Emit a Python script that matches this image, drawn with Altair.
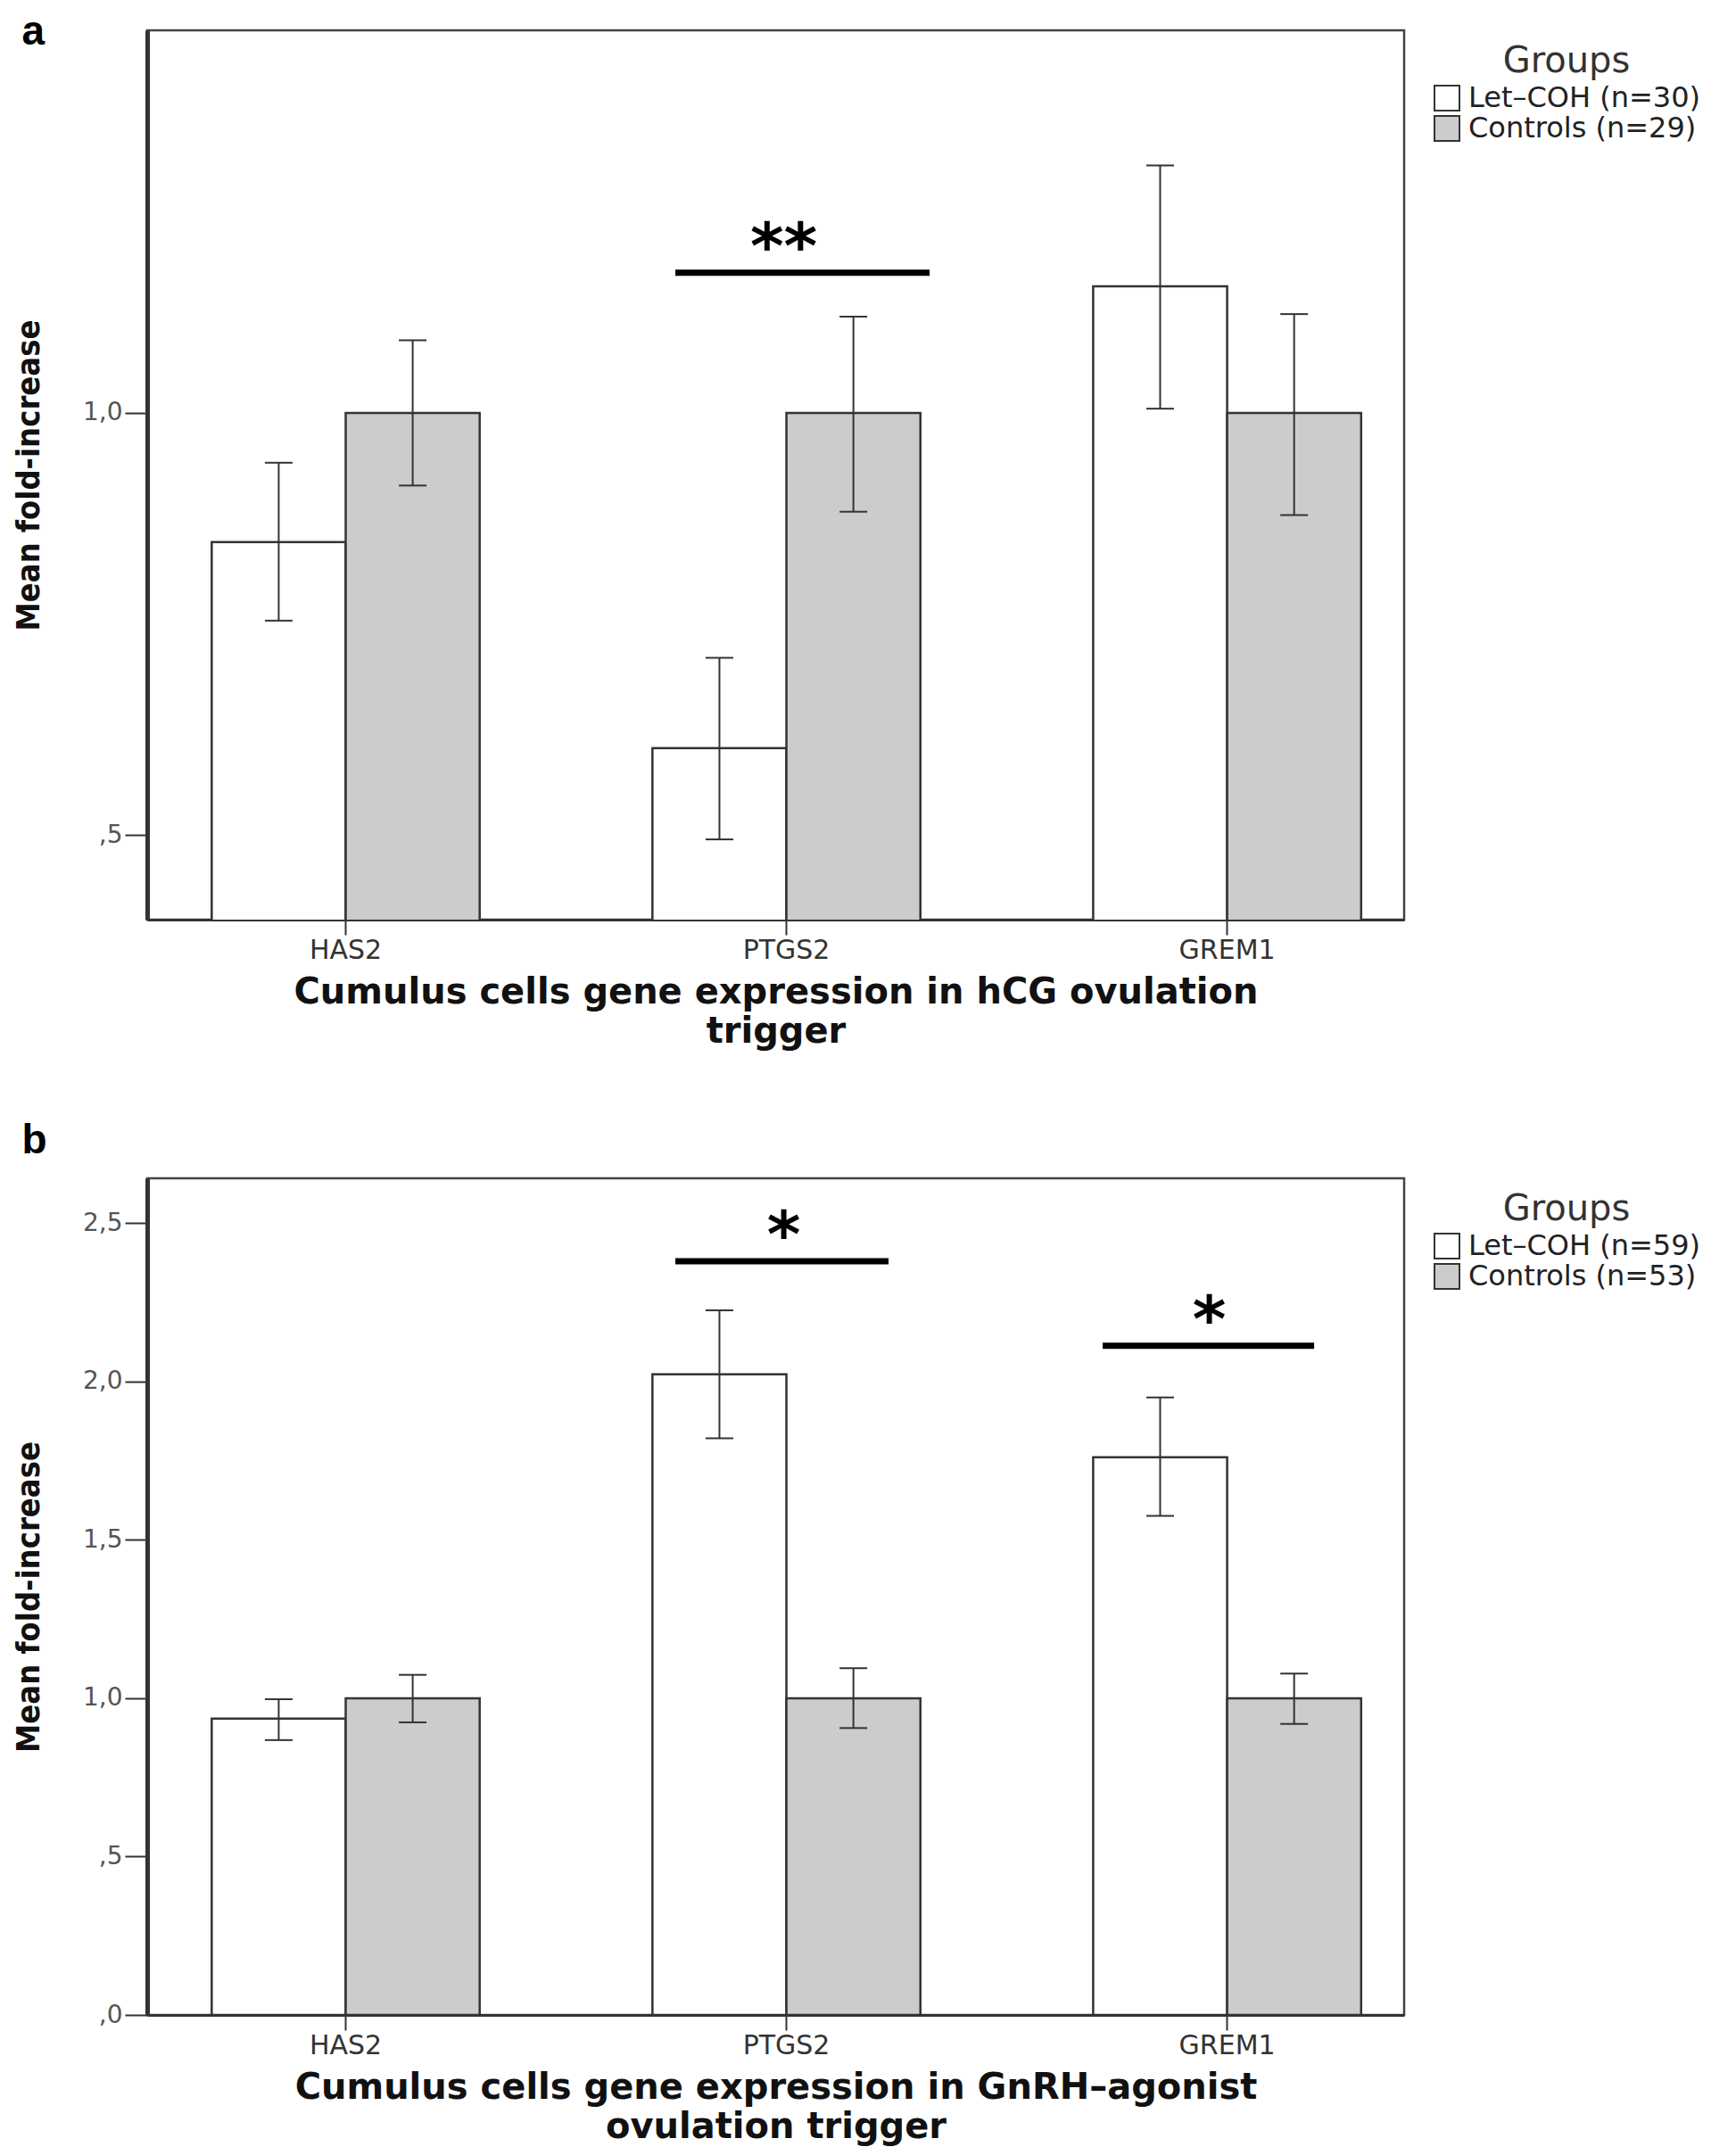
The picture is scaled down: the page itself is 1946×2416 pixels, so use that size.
import altair as alt
import pandas as pd

genes = ["HAS2", "PTGS2", "GREM1"]
groups_a = ["Let–COH (n=30)", "Controls (n=29)"]
groups_b = ["Let–COH (n=59)", "Controls (n=53)"]

# Panel a (hCG trigger)
a_let_mean = [0.847, 0.603, 1.150]
a_let_lo = [0.754, 0.495, 1.005]
a_let_hi = [0.941, 0.710, 1.293]
a_ctl_mean = [1.0, 1.0, 1.0]
a_ctl_lo = [0.914, 0.883, 0.879]
a_ctl_hi = [1.086, 1.114, 1.117]

# Panel b (GnRH-agonist trigger)
b_let_mean = [0.936, 2.023, 1.761]
b_let_lo = [0.868, 1.821, 1.576]
b_let_hi = [0.997, 2.225, 1.950]
b_ctl_mean = [1.0, 1.0, 1.0]
b_ctl_lo = [0.924, 0.906, 0.919]
b_ctl_hi = [1.074, 1.095, 1.078]

a_ticks = [0.5, 1.0]
b_ticks = [0.0, 0.5, 1.0, 1.5, 2.0, 2.5]
a_domain = [0.4, 1.453]
b_domain = [0.0, 2.642]

a_xtitle = ["Cumulus cells gene expression in hCG ovulation", "trigger"]
b_xtitle = ["Cumulus cells gene expression in GnRH–agonist", "ovulation trigger"]

# significance annotations
a_sig_gene = ["PTGS2"]; a_sig_y = [1.166]; a_sig_label = ["**"]
b_sig1_gene = ["PTGS2"]; b_sig1_y = [2.380]; b_sig1_label = ["*"]
b_sig2_gene = ["GREM1"]; b_sig2_y = [2.113]; b_sig2_label = ["*"]

FONT = "DejaVu Sans"
COND = "DejaVu Sans Condensed, Liberation Sans Narrow, DejaVu Sans"
LINE = "#333333"

LABEL_EXPR = ("datum.value < 1 ? replace(format(datum.value, '.1f'), '0.', ',') "
              ": replace(format(datum.value, '.1f'), '.', ',')")


def make_df(groups, lm, llo, lhi, cm, clo, chi):
    rows = []
    for i, g in enumerate(genes):
        rows.append(dict(gene=g, group=groups[0], mean=lm[i], lo=llo[i], hi=lhi[i]))
        rows.append(dict(gene=g, group=groups[1], mean=cm[i], lo=clo[i], hi=chi[i]))
    return pd.DataFrame(rows)


def panel(df, groups, letter, domain, ticks, xtitle, sigs, height, toffset):
    xaxis = alt.Axis(title=xtitle, labelAngle=0, labelFont=FONT, labelFontSize=30,
                     labelColor="#333", labelPadding=2, tickSize=17, tickWidth=2,
                     tickColor=LINE, domainColor=LINE, domainWidth=3,
                     titleFont=FONT, titleFontSize=40, titleFontWeight="bold",
                     titleColor="#111", titleLineHeight=44, titlePadding=12)
    xscale = alt.Scale(paddingInner=0.392, paddingOuter=0.122, align=0.6)
    X = alt.X("gene:N", sort=genes, scale=xscale, axis=xaxis)
    XO = alt.XOffset("group:N", sort=groups,
                     scale=alt.Scale(domain=groups, paddingInner=0, paddingOuter=0))
    yaxis = alt.Axis(title="Mean fold-increase", values=ticks, labelExpr=LABEL_EXPR,
                     labelFont=FONT, labelFontSize=28, labelColor="#555",
                     labelPadding=3, tickSize=25, tickWidth=2, tickColor=LINE,
                     domainColor=LINE, domainWidth=5, grid=False,
                     titleFont=COND, titleFontSize=36, titleFontWeight="bold",
                     titleColor="#111", titlePadding=41)
    yscale = alt.Scale(domain=domain, zero=False, nice=False)
    color = alt.Color("group:N", sort=groups,
                      scale=alt.Scale(domain=groups, range=["#ffffff", "#cccccc"]),
                      legend=alt.Legend(orient="none", legendX=1441, legendY=15,
                                        title="Groups", titleAnchor="middle",
                                        titleFont=FONT, titleFontSize=40,
                                        titleFontWeight="normal", titleColor="#333",
                                        titlePadding=5, labelFont=FONT,
                                        labelFontSize=32, labelColor="#222",
                                        labelLimit=0,
                                        symbolType="square", symbolSize=784,
                                        symbolStrokeColor=LINE, symbolStrokeWidth=2,
                                        rowPadding=-4, labelOffset=8))
    base = alt.Chart(df)
    bars = base.mark_bar(stroke=LINE, strokeWidth=2.5, clip=True).encode(
        x=X, xOffset=XO, y=alt.Y("mean:Q", scale=yscale, axis=yaxis), color=color)
    err = base.mark_rule(color=LINE, strokeWidth=2).encode(
        x=X, xOffset=XO, y=alt.Y("lo:Q", scale=yscale, axis=yaxis), y2="hi:Q")
    cap_lo = base.mark_tick(color=LINE, thickness=2, size=31, opacity=1).encode(
        x=X, xOffset=XO, y=alt.Y("lo:Q", scale=yscale, axis=yaxis))
    cap_hi = base.mark_tick(color=LINE, thickness=2, size=31, opacity=1).encode(
        x=X, xOffset=XO, y=alt.Y("hi:Q", scale=yscale, axis=yaxis))
    layers = [bars, err, cap_lo, cap_hi]
    for sg, sy, sl, width, off, tdx in sigs:
        sdf = pd.DataFrame({"gene": sg, "y": sy, "label": sl})
        layers.append(alt.Chart(sdf).mark_tick(color="black", thickness=7, size=width,
                                              opacity=1, xOffset=off).encode(
            x=X, y=alt.Y("y:Q", scale=yscale, axis=yaxis)))
        layers.append(alt.Chart(sdf).mark_text(font=FONT, fontSize=72, fontWeight="bold",
                                              color="black", baseline="alphabetic",
                                              dx=tdx, dy=-5).encode(
            x=X, y=alt.Y("y:Q", scale=yscale, axis=yaxis), text="label:N"))
    return alt.layer(*layers).properties(
        width=1409, height=height,
        title=alt.TitleParams(letter, anchor="start", frame="bounds", font="Liberation Sans",
                              fontSize=46, fontWeight="bold", color="black", dx=10,
                              offset=toffset))


df_a = make_df(groups_a, a_let_mean, a_let_lo, a_let_hi, a_ctl_mean, a_ctl_lo, a_ctl_hi)
df_b = make_df(groups_b, b_let_mean, b_let_lo, b_let_hi, b_ctl_mean, b_ctl_lo, b_ctl_hi)

pa = panel(df_a, groups_a, "a", a_domain, a_ticks, a_xtitle,
           [(a_sig_gene, a_sig_y, a_sig_label, 285, 18, -3)], 997, -26)
pb = panel(df_b, groups_b, "b", b_domain, b_ticks, b_xtitle,
           [(b_sig1_gene, b_sig1_y, b_sig1_label, 239, -5, -3),
            (b_sig2_gene, b_sig2_y, b_sig2_label, 237, -21, -20)], 938, 18)

chart = alt.vconcat(pa, pb, spacing=76).resolve_scale(
    color="independent", xOffset="independent", x="independent", y="independent"
).properties(
    padding={"left": 5, "top": 3, "right": 0, "bottom": 0}
).configure(background="white", view=alt.ViewConfig(stroke="#444", strokeWidth=2.5))

chart.save("out.html", embed_options={"renderer": "svg", "actions": False})
